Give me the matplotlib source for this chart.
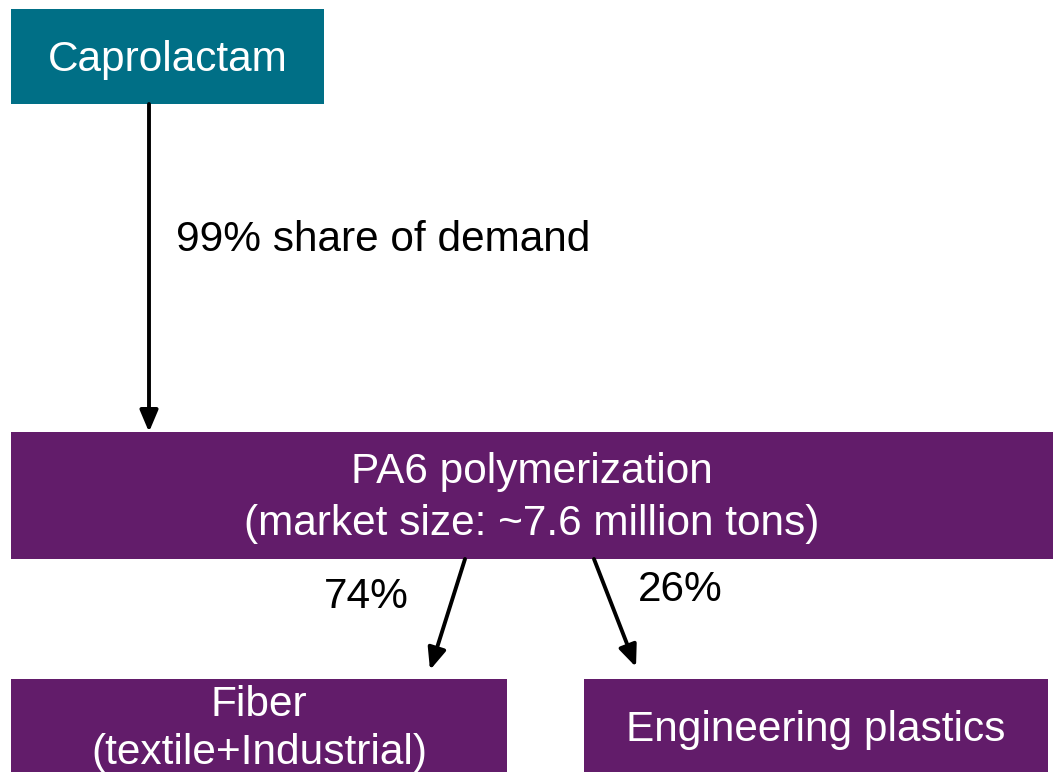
import matplotlib
matplotlib.use("Agg")
import matplotlib.pyplot as plt
from matplotlib.patches import Rectangle

plt.rcParams["font.family"] = ["Liberation Sans", "DejaVu Sans"]

_TEAL = "#006F86"
_PURPLE = "#621C6A"

source = "Caprolactam"
process = "PA6 polymerization\n(market size: ~7.6 million tons)"
source_share = "99% share of demand"
outputs = ["Fiber\n(textile+Industrial)", "Engineering plastics"]
output_shares = ["74%", "26%"]

W, H = 1053, 772
FS = 30.5
fig = plt.figure(figsize=(W / 100, H / 100), dpi=100)
ax = fig.add_axes([0, 0, 1, 1])
ax.set_xlim(0, W)
ax.set_ylim(H, 0)
ax.axis("off")


def box(x0, y0, x1, y1, color, text, ty=None, ls=1.2):
    ax.add_patch(Rectangle((x0, y0), x1 - x0, y1 - y0, color=color, lw=0))
    ax.text((x0 + x1) / 2, ty if ty is not None else (y0 + y1) / 2, text,
            color="white", fontsize=FS, ha="center", va="center",
            linespacing=ls)


def arrow(x0, y0, x1, y1):
    ax.annotate("", xy=(x1, y1), xytext=(x0, y0),
                arrowprops=dict(arrowstyle="-|>,head_length=1.3,head_width=0.55",
                                color="black", lw=2.8, shrinkA=0, shrinkB=0))


# boxes
box(11, 9, 324, 104, _TEAL, source, ty=60)
box(11, 432, 1053, 559, _PURPLE, process, ty=498, ls=1.4)
box(11, 679, 507, 800, _PURPLE, outputs[0], ty=729, ls=1.27)
box(584, 679, 1048, 800, _PURPLE, outputs[1], ty=730)

# arrows + labels
arrow(149, 104, 149, 432)
ax.text(176, 240, source_share, fontsize=FS, ha="left", va="center")

arrow(465, 559, 430, 670)
arrow(594, 559, 636, 667)
ax.text(366, 597, output_shares[0], fontsize=FS, ha="center", va="center")
ax.text(680, 590, output_shares[1], fontsize=FS, ha="center", va="center")

fig.savefig("out.png", dpi=100, facecolor="white")
plt.close(fig)
